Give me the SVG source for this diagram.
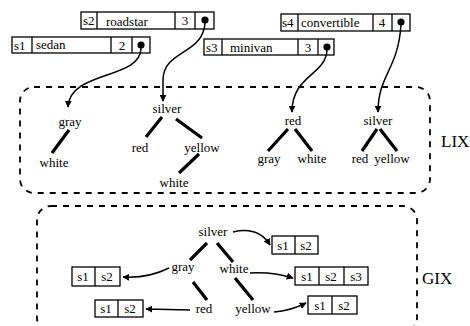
<svg xmlns="http://www.w3.org/2000/svg" width="470" height="326" viewBox="0 0 470 326">
<defs>
<marker id="ah" viewBox="0 0 10 10" refX="9" refY="5" markerWidth="7" markerHeight="7" markerUnits="userSpaceOnUse" orient="auto">
<path d="M0,0 L10,5 L0,10 z" fill="#000"/>
</marker>
<style>
text{font-family:'Liberation Serif','DejaVu Serif','Times New Roman',Times,serif;font-size:13px;fill:#000}
.c{text-anchor:middle}
.lbl{font-size:17px}
.box{fill:#fff;stroke:#000;stroke-width:1.3}
.div{stroke:#000;stroke-width:1.3}
.edge{stroke:#000;stroke-width:3.2;stroke-linecap:butt}
.ptr{fill:none;stroke:#000;stroke-width:1.5;marker-end:url(#ah)}
.region{fill:none;stroke:#000;stroke-width:1.8;stroke-dasharray:6 6}
</style>
</defs>
<rect width="470" height="326" fill="#fff"/>

<!-- regions -->
<rect class="region" x="20" y="87" width="410" height="106" rx="14"/>
<rect class="region" x="37" y="206" width="380" height="126" rx="14"/>
<text class="lbl" x="441" y="147" font-family="Liberation Serif, DejaVu Serif, serif">LIX</text>
<text class="lbl" x="422" y="284" font-family="Liberation Serif, DejaVu Serif, serif">GIX</text>

<!-- records -->
<g id="s2">
<rect class="box" x="81" y="12" width="133" height="17"/>
<line class="div" x1="97" y1="12" x2="97" y2="29"/>
<line class="div" x1="175" y1="12" x2="175" y2="29"/>
<line class="div" x1="195" y1="12" x2="195" y2="29"/>
<text x="83" y="25">s2</text>
<text x="106" y="26">roadstar</text>
<text class="c" x="185" y="25">3</text>
<circle cx="205" cy="20" r="3.6"/>
</g>
<g id="s1">
<rect class="box" x="12" y="37" width="138" height="16"/>
<line class="div" x1="32" y1="37" x2="32" y2="53"/>
<line class="div" x1="111" y1="37" x2="111" y2="53"/>
<line class="div" x1="132" y1="37" x2="132" y2="53"/>
<text x="14" y="50">s1</text>
<text x="36" y="49">sedan</text>
<text class="c" x="122" y="50">2</text>
<circle cx="141" cy="45" r="3.6"/>
</g>
<g id="s4">
<rect class="box" x="281" y="14" width="129" height="17"/>
<line class="div" x1="298" y1="14" x2="298" y2="31"/>
<line class="div" x1="373" y1="14" x2="373" y2="31"/>
<line class="div" x1="392" y1="14" x2="392" y2="31"/>
<text x="282" y="27">s4</text>
<text x="301" y="27">convertible</text>
<text class="c" x="382" y="27">4</text>
<circle cx="401" cy="22" r="3.6"/>
</g>
<g id="s3">
<rect class="box" x="204" y="39" width="130" height="16"/>
<line class="div" x1="222" y1="39" x2="222" y2="55"/>
<line class="div" x1="298" y1="39" x2="298" y2="55"/>
<line class="div" x1="318" y1="39" x2="318" y2="55"/>
<text x="206" y="52">s3</text>
<text x="230" y="52">minivan</text>
<text class="c" x="308" y="52">3</text>
<circle cx="327" cy="47" r="3.6"/>
</g>

<!-- LIX trees -->
<g id="lix1">
<text class="c" x="70" y="126">gray</text>
<text class="c" x="54" y="167">white</text>
</g>
<g id="lix2">
<text class="c" x="167" y="113">silver</text>
<text class="c" x="140" y="152">red</text>
<text class="c" x="202" y="152">yellow</text>
<text class="c" x="174" y="187">white</text>
</g>
<g id="lix3">
<text class="c" x="293" y="125">red</text>
<text class="c" x="269" y="163">gray</text>
<text class="c" x="312" y="163">white</text>
</g>
<g id="lix4">
<text class="c" x="378" y="125">silver</text>
<text class="c" x="360" y="163">red</text>
<text class="c" x="392" y="163">yellow</text>
</g>

<!-- GIX tree -->
<g id="gix">
<text class="c" x="213" y="236">silver</text>
<text class="c" x="183" y="271">gray</text>
<text class="c" x="234" y="273">white</text>
<text class="c" x="204" y="313">red</text>
<text class="c" x="253" y="313">yellow</text>
</g>
<g id="gA">
<rect class="box" x="272" y="236" width="46" height="18"/>
<line class="div" x1="295" y1="236" x2="295" y2="254"/>
<text class="c" x="283" y="250">s1</text>
<text class="c" x="306" y="250">s2</text>
</g>
<g id="gB">
<rect class="box" x="295" y="267" width="73" height="18"/>
<line class="div" x1="319" y1="267" x2="319" y2="285"/>
<line class="div" x1="344" y1="267" x2="344" y2="285"/>
<text class="c" x="307" y="281">s1</text>
<text class="c" x="331" y="281">s2</text>
<text class="c" x="356" y="281">s3</text>
</g>
<g id="gC">
<rect class="box" x="308" y="296" width="49" height="18"/>
<line class="div" x1="332" y1="296" x2="332" y2="314"/>
<text class="c" x="320" y="310">s1</text>
<text class="c" x="344" y="310">s2</text>
</g>
<g id="gD">
<rect class="box" x="72" y="267" width="48" height="19"/>
<line class="div" x1="95" y1="267" x2="95" y2="286"/>
<text class="c" x="83" y="281">s1</text>
<text class="c" x="107" y="281">s2</text>
</g>
<g id="gE">
<rect class="box" x="95" y="300" width="48" height="17"/>
<line class="div" x1="118" y1="300" x2="118" y2="317"/>
<text class="c" x="106" y="313">s1</text>
<text class="c" x="130" y="313">s2</text>
</g>

<!-- connectors -->
<g id="connectors">
<line class="edge" x1="69" y1="130" x2="52" y2="153"/>
<line class="edge" x1="162" y1="117" x2="146" y2="137"/>
<line class="edge" x1="176" y1="119" x2="202" y2="138"/>
<line class="edge" x1="199" y1="154" x2="179" y2="173"/>
<line class="edge" x1="288" y1="129" x2="268" y2="151"/>
<line class="edge" x1="295" y1="129" x2="312" y2="151"/>
<line class="edge" x1="377" y1="129" x2="362" y2="151"/>
<line class="edge" x1="380" y1="129" x2="397" y2="151"/>
<line class="edge" x1="207" y1="243" x2="190" y2="260"/>
<line class="edge" x1="217" y1="243" x2="233" y2="262"/>
<line class="edge" x1="193" y1="282" x2="207" y2="300"/>
<line class="edge" x1="235" y1="278" x2="253" y2="300"/>

<path class="ptr" d="M141,48 C141,80 70,70 68,107"/>
<path class="ptr" d="M205,23 C203,55 163,50 163,80 L163,101"/>
<path class="ptr" d="M327,50 C326,75 292,75 292,112"/>
<path class="ptr" d="M401,25 C398,70 378,75 378,112"/>

<path class="ptr" d="M233,232 C250,228 262,232 270,245"/>
<path class="ptr" d="M250,273 C265,272 280,274 293,278"/>
<path class="ptr" d="M274,312 C288,311 296,308 306,303"/>
<path class="ptr" d="M169,268 C155,275 140,278 123,277"/>
<path class="ptr" d="M190,310 L146,309"/>
</g>
</svg>
